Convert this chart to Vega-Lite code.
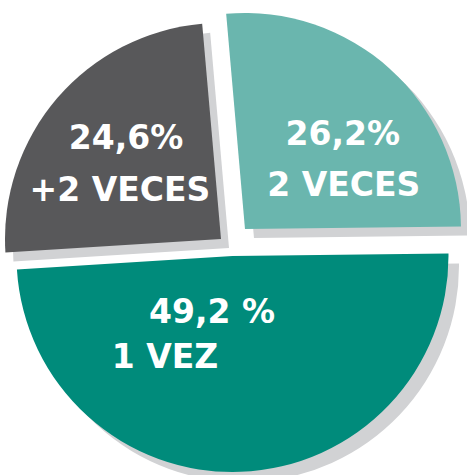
{
  "$schema": "https://vega.github.io/schema/vega-lite/v6.json",
  "width": 467,
  "height": 475,
  "autosize": {"type": "fit", "contains": "padding"},
  "padding": {"left": 3, "top": 15, "right": 0, "bottom": 0},
  "background": "white",
  "view": {"stroke": null},
  "data": {
    "values": [
      {"cat": "2 VECES", "value": 26.2, "ord": 1, "pct": "26,2%", "label": "2 VECES"},
      {"cat": "1 VEZ", "value": 49.2, "ord": 2, "pct": "49,2 %", "label": "1 VEZ"},
      {"cat": "+2 VECES", "value": 24.6, "ord": 3, "pct": "24,6%", "label": "+2 VECES"}
    ]
  },
  "encoding": {
    "theta": {"field": "value", "type": "quantitative", "stack": true, "scale": {"range": [-0.0873, 6.1959]}},
    "order": {"field": "ord", "type": "quantitative"}
  },
  "layer": [
    {"mark": {"type": "arc", "radius": 216, "xOffset": -4, "yOffset": 3, "fill": "#d1d2d4"},
     "encoding": {"opacity": {"condition": {"test": "datum.cat === '+2 VECES'", "value": 1}, "value": 0}}},
    {"mark": {"type": "arc", "radius": 216, "xOffset": 21, "yOffset": -7, "fill": "#d1d2d4"},
     "encoding": {"opacity": {"condition": {"test": "datum.cat === '2 VECES'", "value": 1}, "value": 0}}},
    {"mark": {"type": "arc", "radius": 216, "xOffset": 10, "yOffset": 21, "fill": "#d1d2d4"},
     "encoding": {"opacity": {"condition": {"test": "datum.cat === '1 VEZ'", "value": 1}, "value": 0}}},
    {"mark": {"type": "arc", "radius": 216, "xOffset": -12, "yOffset": -6, "fill": "#58585a"},
     "encoding": {"opacity": {"condition": {"test": "datum.cat === '+2 VECES'", "value": 1}, "value": 0}}},
    {"mark": {"type": "arc", "radius": 216, "xOffset": 12, "yOffset": -16, "fill": "#6ab6ae"},
     "encoding": {"opacity": {"condition": {"test": "datum.cat === '2 VECES'", "value": 1}, "value": 0}}},
    {"mark": {"type": "arc", "radius": 216, "xOffset": -0.5, "yOffset": 11, "fill": "#008b7b"},
     "encoding": {"opacity": {"condition": {"test": "datum.cat === '1 VEZ'", "value": 1}, "value": 0}}},
    {"mark": {"type": "text", "radius": 130, "dx": -8.5, "dy": -21.2, "font": "DejaVu Sans", "fontWeight": "bold", "fontSize": 33, "fill": "white", "align": "center", "baseline": "middle"},
     "encoding": {"text": {"condition": {"test": "datum.cat === '+2 VECES'", "field": "pct"}, "value": ""}}},
    {"mark": {"type": "text", "radius": 130, "dx": -14.5, "dy": 30.8, "font": "DejaVu Sans", "fontWeight": "bold", "fontSize": 33, "fill": "white", "align": "center", "baseline": "middle"},
     "encoding": {"text": {"condition": {"test": "datum.cat === '+2 VECES'", "field": "label"}, "value": ""}}},
    {"mark": {"type": "text", "radius": 130, "dx": 22.6, "dy": -13.7, "font": "DejaVu Sans", "fontWeight": "bold", "fontSize": 33, "fill": "white", "align": "center", "baseline": "middle"},
     "encoding": {"text": {"condition": {"test": "datum.cat === '2 VECES'", "field": "pct"}, "value": ""}}},
    {"mark": {"type": "text", "radius": 130, "dx": 23.6, "dy": 37.3, "font": "DejaVu Sans", "fontWeight": "bold", "fontSize": 33, "fill": "white", "align": "center", "baseline": "middle"},
     "encoding": {"text": {"condition": {"test": "datum.cat === '2 VECES'", "field": "label"}, "value": ""}}},
    {"mark": {"type": "text", "radius": 80, "dx": -23.9, "dy": -11.9, "font": "DejaVu Sans", "fontWeight": "bold", "fontSize": 33, "fill": "white", "align": "center", "baseline": "middle"},
     "encoding": {"text": {"condition": {"test": "datum.cat === '1 VEZ'", "field": "pct"}, "value": ""}}},
    {"mark": {"type": "text", "radius": 80, "dx": -70.9, "dy": 33.1, "font": "DejaVu Sans", "fontWeight": "bold", "fontSize": 33, "fill": "white", "align": "center", "baseline": "middle"},
     "encoding": {"text": {"condition": {"test": "datum.cat === '1 VEZ'", "field": "label"}, "value": ""}}}
  ]
}
